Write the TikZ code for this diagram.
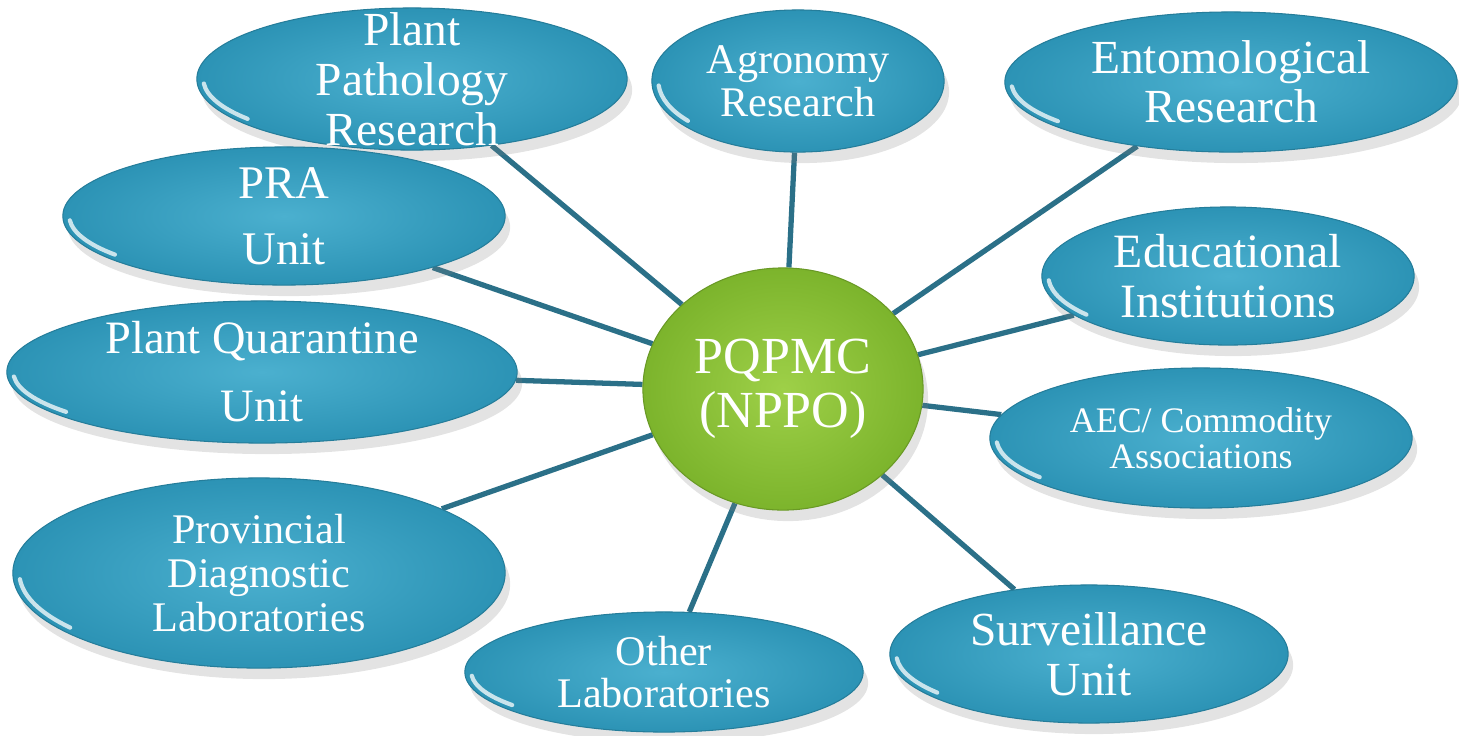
\documentclass[tikz,border=0pt]{standalone}
\usepackage{fontspec}
\setmainfont{Liberation Serif}
\usepackage{xcolor}
\usepackage{tikz}
\usetikzlibrary{shapes,positioning,calc,shadows,backgrounds}
\definecolor{linkteal}{HTML}{2B7088}
\definecolor{bubblelight}{HTML}{4BB0CF}
\definecolor{bubbledark}{HTML}{2C93B5}
\definecolor{hublight}{HTML}{9ED048}
\definecolor{hubdark}{HTML}{7CB42C}

\begin{document}
\begin{tikzpicture}[x=0.01cm, y=-0.01cm,
    bubble/.style={ellipse, inner sep=0pt, inner color=bubblelight, outer color=bubbledark, draw=bubbledark!85!black, line width=0.3pt, drop shadow={opacity=0.22, shadow xshift=0.5mm, shadow yshift=-1.1mm}},
    hub/.style={ellipse, inner sep=0pt, inner color=hublight, outer color=hubdark, draw=hubdark!85!black, line width=0.3pt, drop shadow={opacity=0.22, shadow xshift=0.5mm, shadow yshift=-1.1mm}},
    bubtxt/.style={text=white, align=center, inner sep=0pt},
    gloss/.style={white, opacity=0.75, line width=1.2pt, line cap=round},
    link/.style={linkteal, line width=1.5pt}]
    \useasboundingbox (0,0) rectangle (1459,735);
    \foreach \nm/\cx/\cy/\rx/\ry/\fs/\bs/\txt in {
        pp/412/79/215/71/13.5/14.2/{Plant\\Pathology\\Research},
        agr/798/81/146/71/12/12.3/{Agronomy\\Research},
        ent/1231/82/226/70/13.5/14/{Entomological\\Research},
        pra/284/216/221/69/13.3/18.8/{PRA\\Unit},
        pq/262/372/255/71/13.2/19.3/{Plant Quarantine\\Unit},
        edu/1228/276/186/69/13.6/14.2/{Educational\\Institutions},
        aec/1201/438/211/70/10.2/10.3/{AEC/ Commodity\\Associations},
        pdl/259/573/246/95/12/12.5/{Provincial\\Diagnostic\\Laboratories},
        ol/664/672/199/60/12/12.2/{Other\\Laboratories},
        surv/1089/654/199/69/13.5/14.2/{Surveillance\\Unit}}
    {
        \node[bubble, minimum width={0.02cm*\rx}, minimum height={0.02cm*\ry}] (\nm) at (\cx,\cy) {};
        \draw[gloss] (\nm.center) ++(184:{\rx*0.01cm-1.8pt} and {\ry*0.01cm-1.8pt}) arc[start angle=184, end angle=218, x radius={\rx*0.01cm-1.8pt}, y radius={\ry*0.01cm-1.8pt}];
        \node[bubtxt, font=\fontsize{\fs}{\bs}\selectfont] (\nm-t) at (\nm) {\txt};
    }
    \node[hub, minimum width=2.80cm, minimum height=2.42cm] (hub) at (783,389) {};
    \node[bubtxt, font=\fontsize{14.8}{15.4}\selectfont] (hub-t) at (hub) {PQPMC\\(NPPO)};
    \begin{scope}[on background layer]
        \foreach \nm in {pp,agr,ent,pra,pq,edu,aec,pdl,ol,surv} \draw[link] (hub) -- (\nm);
    \end{scope}
\end{tikzpicture}
\end{document}
